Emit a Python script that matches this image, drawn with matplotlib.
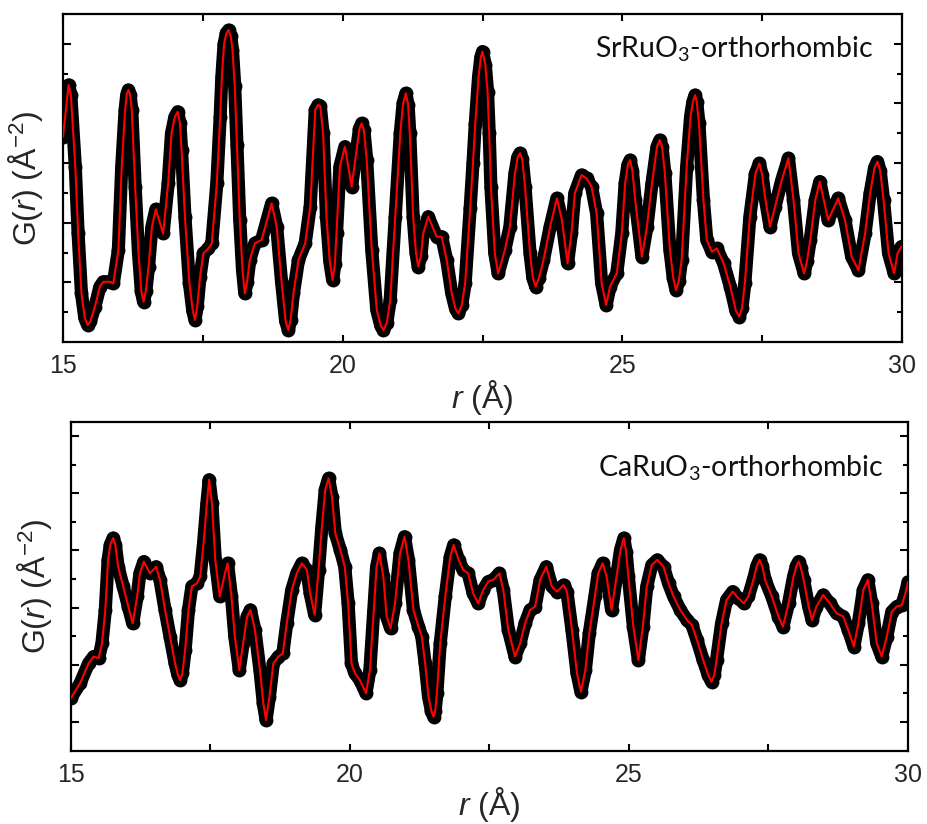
import matplotlib
matplotlib.use("Agg")
import matplotlib.pyplot as plt

plt.rcParams['font.family'] = ['Liberation Sans', 'DejaVu Sans']
plt.rcParams['mathtext.fontset'] = 'custom'
plt.rcParams['mathtext.rm'] = 'Liberation Sans'
plt.rcParams['mathtext.it'] = 'Liberation Sans:italic'

# ---------------- data ----------------
r_top = [15.00, 15.10, 15.14, 15.22, 15.27, 15.33, 15.39, 15.44, 15.49, 15.57,
         15.66, 15.72, 15.84, 15.90, 15.99, 16.05, 16.11, 16.14, 16.17, 16.20,
         16.23, 16.29, 16.35, 16.40, 16.44, 16.48, 16.53, 16.59, 16.66, 16.79,
         16.88, 16.94, 17.00, 17.05, 17.09, 17.12, 17.18, 17.26, 17.32, 17.36,
         17.40, 17.45, 17.51, 17.60, 17.66, 17.75, 17.81, 17.84, 17.88, 17.92,
         17.96, 18.00, 18.03, 18.07, 18.11, 18.16, 18.21, 18.25, 18.29, 18.34,
         18.43, 18.55, 18.73, 18.82, 18.91, 18.98, 19.03, 19.07, 19.12, 19.21,
         19.33, 19.42, 19.51, 19.56, 19.60, 19.65, 19.71, 19.77, 19.82, 19.86,
         19.89, 19.95, 20.04, 20.16, 20.25, 20.30, 20.34, 20.38, 20.43, 20.52,
         20.61, 20.68, 20.73, 20.79, 20.85, 20.94, 21.03, 21.08, 21.13, 21.17,
         21.20, 21.26, 21.31, 21.35, 21.40, 21.44, 21.53, 21.68, 21.77, 21.86,
         21.95, 22.02, 22.07, 22.13, 22.19, 22.28, 22.33, 22.37, 22.43, 22.47,
         22.50, 22.55, 22.59, 22.62, 22.65, 22.72, 22.78, 22.90, 22.99, 23.08,
         23.13, 23.17, 23.21, 23.26, 23.35, 23.40, 23.45, 23.51, 23.59, 23.71,
         23.83, 23.92, 24.02, 24.09, 24.15, 24.27, 24.36, 24.45, 24.54, 24.63,
         24.71, 24.78, 24.90, 24.99, 25.05, 25.10, 25.14, 25.18, 25.23, 25.35,
         25.44, 25.53, 25.62, 25.67, 25.71, 25.76, 25.85, 25.91, 25.96, 26.01,
         26.06, 26.15, 26.22, 26.26, 26.30, 26.33, 26.37, 26.45, 26.51, 26.60,
         26.69, 26.81, 26.93, 27.03, 27.09, 27.14, 27.19, 27.28, 27.38, 27.45,
         27.50, 27.55, 27.64, 27.73, 27.85, 27.97, 28.06, 28.15, 28.25, 28.30,
         28.36, 28.45, 28.53, 28.68, 28.86, 28.98, 29.10, 29.22, 29.34, 29.43,
         29.51, 29.56, 29.61, 29.67, 29.76, 29.86, 29.92, 29.99]
g_top = [0.89, 2.62, 2.30, -0.12, -2.36, -4.37, -5.20, -5.43, -5.30, -4.82,
         -4.14, -3.98, -3.98, -4.03, -2.91, -0.12, 1.78, 2.30, 2.45, 2.30,
         1.78, -0.79, -3.03, -4.30, -4.65, -4.30, -3.47, -2.13, -1.55, -2.36,
         -0.68, 1.00, 1.55, 1.72, 1.35, 0.44, -1.80, -4.03, -4.95, -5.26,
         -4.80, -3.81, -3.03, -2.86, -2.69, -0.68, 1.56, 2.90, 4.00, 4.35,
         4.46, 4.25, 3.80, 2.60, 0.60, -1.90, -3.60, -4.37, -4.00, -3.25,
         -2.69, -2.58, -1.35, -2.13, -4.03, -5.30, -5.60, -5.25, -4.37, -3.25,
         -2.69, -1.46, 1.78, 1.95, 1.91, 1.00, -1.80, -3.30, -3.92, -3.40,
         -2.36, -0.12, 0.55, -0.79, 0.44, 1.15, 1.33, 1.10, 0.10, -2.91,
         -4.93, -5.45, -5.60, -5.35, -4.59, -1.80, 1.00, 2.00, 2.34, 1.95,
         1.00, -1.80, -3.00, -3.47, -3.10, -2.36, -1.80, -2.47, -2.47, -3.25,
         -4.37, -4.90, -5.04, -4.75, -4.03, -1.50, 0.00, 1.30, 2.90, 3.55,
         3.74, 3.30, 2.40, 1.00, -0.79, -3.03, -3.70, -2.91, -2.13, -0.34,
         0.20, 0.33, 0.15, -0.79, -3.03, -3.85, -4.14, -3.85, -3.25, -2.13,
         -1.18, -1.91, -3.36, -2.36, -1.01, -0.40, -0.51, -0.79, -1.69, -4.03,
         -4.76, -4.14, -3.70, -2.36, -0.68, -0.05, 0.10, -0.25, -1.24, -3.14,
         -2.13, -0.68, 0.55, 0.77, 0.55, -0.34, -2.91, -3.85, -4.26, -3.95,
         -3.25, -0.12, 1.56, 2.05, 2.28, 2.05, 1.33, -1.24, -2.58, -2.97,
         -2.86, -3.36, -4.14, -4.95, -5.15, -4.85, -4.03, -1.80, -0.35, -0.01,
         -0.40, -1.13, -2.13, -1.46, -0.57, 0.16, -1.24, -3.03, -3.70, -3.30,
         -2.58, -1.24, -0.62, -1.91, -1.18, -1.91, -3.14, -3.59, -2.36, -1.01,
         -0.15, 0.05, -0.25, -1.24, -3.03, -3.70, -3.03, -2.80]

r_bot = [15.00, 15.17, 15.32, 15.41, 15.50, 15.56, 15.62, 15.67, 15.71, 15.76,
         15.80, 15.85, 15.94, 16.03, 16.11, 16.19, 16.24, 16.31, 16.42, 16.53,
         16.60, 16.69, 16.78, 16.87, 16.92, 16.96, 17.00, 17.05, 17.11, 17.17,
         17.26, 17.32, 17.38, 17.44, 17.48, 17.53, 17.59, 17.67, 17.75, 17.81,
         17.88, 17.94, 18.02, 18.09, 18.16, 18.22, 18.30, 18.39, 18.45, 18.50,
         18.56, 18.63, 18.72, 18.80, 18.87, 18.96, 19.05, 19.14, 19.23, 19.29,
         19.37, 19.44, 19.50, 19.56, 19.62, 19.68, 19.74, 19.83, 19.91, 19.97,
         20.03, 20.09, 20.18, 20.29, 20.36, 20.43, 20.48, 20.53, 20.60, 20.66,
         20.73, 20.81, 20.90, 20.98, 21.05, 21.14, 21.23, 21.29, 21.35, 21.41,
         21.46, 21.50, 21.53, 21.56, 21.62, 21.71, 21.80, 21.86, 21.95, 22.03,
         22.12, 22.21, 22.30, 22.39, 22.48, 22.57, 22.68, 22.75, 22.84, 22.96,
         23.05, 23.14, 23.23, 23.32, 23.41, 23.52, 23.62, 23.71, 23.83, 23.89,
         23.98, 24.07, 24.14, 24.22, 24.29, 24.39, 24.45, 24.53, 24.60, 24.69,
         24.78, 24.85, 24.91, 24.95, 24.99, 25.08, 25.17, 25.25, 25.32, 25.41,
         25.51, 25.62, 25.71, 25.80, 25.92, 26.04, 26.13, 26.22, 26.33, 26.42,
         26.48, 26.53, 26.57, 26.66, 26.75, 26.86, 26.96, 27.06, 27.14, 27.23,
         27.29, 27.34, 27.39, 27.44, 27.56, 27.68, 27.76, 27.86, 27.95, 28.00,
         28.04, 28.08, 28.13, 28.22, 28.28, 28.36, 28.48, 28.60, 28.72, 28.84,
         28.93, 29.03, 29.11, 29.20, 29.28, 29.35, 29.44, 29.53, 29.62, 29.71,
         29.80, 29.89, 29.97, 30.00]
g_bot = [-4.17, -3.64, -2.95, -2.71, -2.77, -2.25, -1.08, 0.67, 1.20, 1.43,
         1.20, 0.43, -0.26, -0.96, -1.55, -0.61, 0.20, 0.61, 0.20, 0.43,
         -0.03, -1.08, -2.01, -2.95, -3.35, -3.53, -3.30, -2.48, -1.08, -0.26,
         -0.15, 0.09, 1.25, 2.65, 3.47, 2.65, 0.67, -0.61, 0.09, 0.55,
         -0.61, -2.01, -3.18, -2.25, -1.31, -1.08, -1.78, -3.18, -4.34, -4.93,
         -4.11, -2.95, -2.71, -2.60, -1.55, -0.38, 0.20, 0.55, 0.32, -0.50,
         -1.25, 0.32, 1.83, 3.12, 3.52, 2.88, 1.60, 1.02, 0.43, -0.85,
         -2.95, -3.29, -3.53, -3.99, -3.18, -1.08, 0.43, 0.90, 0.09, -1.31,
         -1.72, -0.85, 0.90, 1.48, 0.67, -1.08, -1.66, -2.01, -2.95, -4.11,
         -4.60, -4.81, -4.60, -3.99, -2.25, -0.61, 0.78, 1.19, 0.67, 0.32,
         0.20, -0.50, -0.85, -0.38, -0.09, -0.03, 0.20, -0.38, -1.78, -2.71,
         -2.25, -1.55, -1.08, -0.96, -0.03, 0.43, -0.26, -0.44, -0.21, -0.44,
         -1.78, -3.29, -3.94, -3.18, -1.90, -0.61, 0.20, 0.55, 0.09, -1.08,
         0.09, 1.02, 1.43, 0.95, 0.09, -1.66, -2.83, -1.66, -0.26, 0.49,
         0.67, 0.43, -0.15, -0.61, -1.08, -1.43, -1.61, -2.13, -2.83, -3.35,
         -3.59, -3.35, -2.83, -1.55, -0.73, -0.44, -0.67, -0.85, -0.61, -0.03,
         0.45, 0.67, 0.45, -0.03, -0.61, -1.31, -1.66, -0.85, 0.09, 0.45,
         0.61, 0.40, -0.03, -0.96, -1.43, -0.96, -0.56, -0.85, -1.20, -1.31,
         -1.78, -2.36, -1.55, -0.38, -0.03, -0.85, -2.25, -2.71, -2.01, -1.14,
         -0.96, -0.91, -0.38, -0.10]

x_ticks = [15, 20, 25, 30]
x_minor = [17.5, 22.5, 27.5]
labels = ['SrRuO$_\\mathregular{3}$-orthorhombic', 'CaRuO$_\\mathregular{3}$-orthorhombic']

# ---------------- figure ----------------
W, H = 927, 824
fig = plt.figure(figsize=(W / 100, H / 100), dpi=100)
ax1 = fig.add_axes([63 / W, 1 - 342 / H, 839 / W, 328 / H])
ax2 = fig.add_axes([70.7 / W, 1 - 750.7 / H, 837.3 / W, 329 / H])

text_col = '#262626'
panels = [
    (ax1, r_top, g_top, (-6, 5), [-4, -2, 0, 2, 4], [-5, -3, -1, 1, 3], labels[0], (0.634, 0.866), -0.021, -0.110),
    (ax2, r_bot, g_bot, (-6, 5.5), [-5, -3, -1, 1, 3, 5], [-4, -2, 0, 2, 4], labels[1], (0.630, 0.832), -0.020, -0.104),
]
for ax, r, g, ylim, ymaj, ymin, lab, lpos, ylx, xly in panels:
    ax.plot(r, g, '-', color='black', lw=9.5, solid_capstyle='round',
            solid_joinstyle='round', zorder=2)
    ax.plot(r, g, 'o', color='black', ms=10, mew=0, zorder=2)
    ax.plot(r, g, '-', color='#ff0000', lw=1.5, solid_joinstyle='round', zorder=3)
    ax.set_xlim(15, 30)
    ax.set_ylim(*ylim)
    ax.set_xticks(x_ticks)
    ax.set_xticks(x_minor, minor=True)
    ax.set_yticks(ymaj)
    ax.set_yticks(ymin, minor=True)
    ax.set_yticklabels([])
    ax.tick_params(which='both', direction='in', top=True, right=True, width=1.5, colors='black')
    ax.tick_params(axis='y', which='major', length=6)
    ax.tick_params(axis='y', which='minor', length=3.5)
    ax.tick_params(axis='x', which='both', length=5)
    ax.tick_params(axis='x', which='major', labelsize=18, pad=9, labelcolor=text_col)
    for s in ax.spines.values():
        s.set_linewidth(1.6)
    ax.set_xlabel('$\\it{r}$ (Å)', fontsize=23, color=text_col)
    ax.xaxis.set_label_coords(0.5, xly)
    ax.set_ylabel('G($\\it{r}$) (Å$^{\\mathregular{-2}}$)', fontsize=23, color=text_col)
    ax.yaxis.set_label_coords(ylx, 0.5)
    ax.text(lpos[0], lpos[1], lab, transform=ax.transAxes, fontsize=20.5,
            family=['Lato', 'DejaVu Sans'], color='#111111', va='baseline', ha='left')

fig.savefig('out.png', dpi=100)
